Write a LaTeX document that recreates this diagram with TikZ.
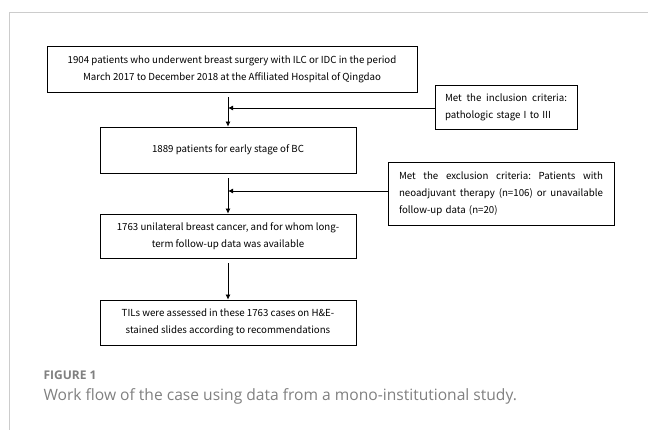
\documentclass[tikz,border=0pt]{standalone}
\usepackage{fontspec}
\setmainfont{Noto Sans CJK SC}
\newfontfamily\capfont{Open Sans}
\usepackage{xcolor}
\usetikzlibrary{arrows.meta, calc, positioning}
\definecolor{framegray}{RGB}{204,204,204}
\definecolor{capgray}{RGB}{128,128,128}
\newcommand{\spreadline}[1]{\makebox[\hsize][s]{\spaceskip=0.3em plus 1fil\xspaceskip=\spaceskip #1}}
\tikzset{
	box/.style={draw, line width=0.8pt, align=center, font=\fontsize{9.7}{17}\selectfont, inner sep=0pt},
	sidebox/.style={box, align=left},
	arr/.style={-{Latex[length=5pt, width=5pt]}, line width=0.8pt}
}

\begin{document}
\begin{tikzpicture}[x=1pt, y=1pt]
	\useasboundingbox (0,0) rectangle (648,430);
	\draw[framegray, line width=0.8pt] (648,417.5) -- (9.5,417.5) -- (9.5,0);
	\node[box, minimum width=370pt, minimum height=46pt] (patients) at (232,361) {1904 patients who underwent breast surgery with ILC or IDC in the period\\March 2017 to December 2018 at the Affiliated Hospital of Qingdao};
	\node[sidebox, minimum width=142pt, minimum height=44pt, text width=122pt] (incl) at (506,323) {\spreadline{Met the inclusion criteria:}\\pathologic stage I to III};
	\node[box, minimum width=256pt, minimum height=46pt] (early) at (228,280) {1889 patients for early stage of BC};
	\node[sidebox, minimum width=226pt, minimum height=63pt, text width=204pt] (excl) at (501,236.5) {\spreadline{Met the exclusion criteria: Patients with}\\\spreadline{neoadjuvant therapy (n=106) or unavailable}\\follow-up data (n=20)};
	\node[box, minimum width=256pt, minimum height=44pt] (unil) at (228,194) {1763 unilateral breast cancer, and for whom long-\\term follow-up data was available};
	\node[box, minimum width=256pt, minimum height=45pt] (tils) at (228,107.5) {TILs were assessed in these 1763 cases on H\&E-\\stained slides according to recommendations};
	\draw[arr, shorten <=5pt] (patients.south -| early.north) -- (early.north);
	\draw[arr] (incl.west |- 0,322) -- (early.north |- 0,322);
	\draw[arr, shorten <=5pt] (early.south) -- (unil.north);
	\draw[arr] (excl.west |- 0,239) -- (unil.north |- 0,239);
	\draw[arr, shorten <=5pt] (unil.south) -- (tils.north);
	\node[anchor=west, text=capgray, font=\capfont\fontsize{12}{14}\selectfont\bfseries] (fig) at (40,55) {FIGURE 1};
	\node[anchor=west, text=capgray, font=\capfont\fontsize{15.6}{18}\selectfont] (cap) at (40,34) {Work flow of the case using data from a mono-institutional study.};
\end{tikzpicture}
\end{document}
